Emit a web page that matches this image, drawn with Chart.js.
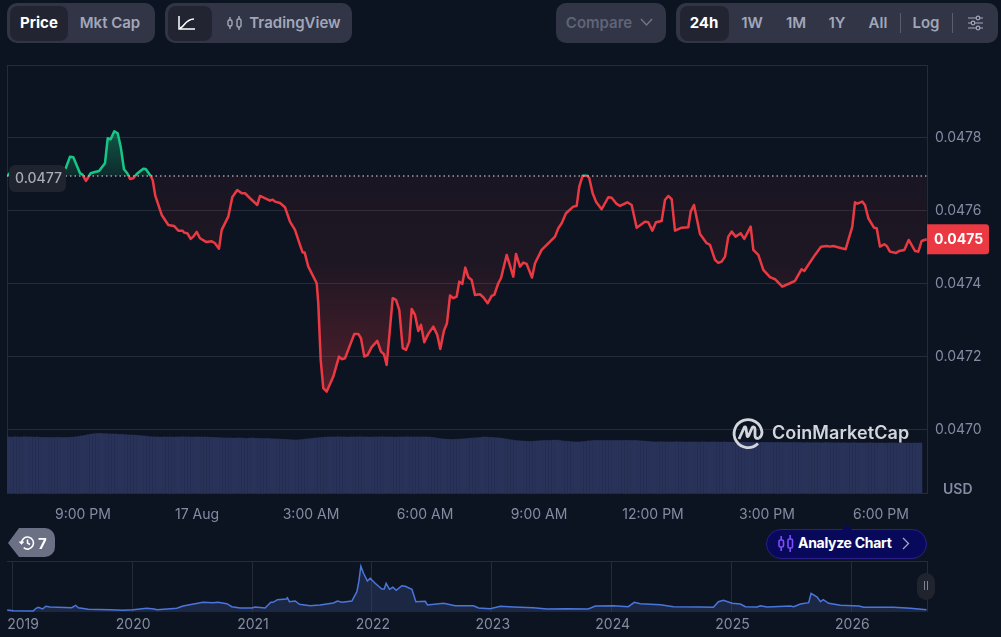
<!DOCTYPE html>
<html>
<head>
<meta charset="utf-8">
<title>Price chart</title>
<script src="https://cdn.jsdelivr.net/npm/chart.js@4/dist/chart.umd.js"></script>
<style>
html, body { margin: 0; padding: 0; background: #0d1421; }
body { position: relative; width: 1001px; height: 637px; overflow: hidden; font-family: Inter, sans-serif; }
canvas { position: absolute; left: 0; }
#mainChart { top: 60px; }
#miniChart { top: 555px; }
.box { position: absolute; top: 3px; height: 40px; background: #323546; border-radius: 10px; }
.active { position: absolute; top: 6px; height: 35px; background: #222531; border-radius: 8px; }
.btn { position: absolute; top: 3px; height: 40px; line-height: 40px; font-size: 15px; font-weight: 600; color: #a1a7bb; transform: translateX(-50%); white-space: nowrap; }
.btn.on { color: #fff; font-weight: 700; }
.sep { position: absolute; top: 13px; width: 1px; height: 20px; background: #585d70; }
svg { position: absolute; overflow: visible; }
#usd { position: absolute; left: 943px; top: 480px; font-size: 14px; font-weight: 600; color: #858ca2; }
#history { position: absolute; left: 38px; top: 534px; font-size: 15px; font-weight: 700; color: #fff; }
#analyze { position: absolute; left: 766px; top: 529px; width: 159px; height: 28px; background: #09095c; border: 1px solid #2a1f8a; border-radius: 15px; }
#analyzeText { position: absolute; left: 798px; top: 534px; font-size: 14px; font-weight: 700; color: #fff; letter-spacing: -0.3px; }
#cmcText { position: absolute; left: 772px; top: 422px; font-size: 18px; font-weight: 600; color: #d3d6dc; letter-spacing: 0.1px; }
</style>
</head>
<body>
<canvas id="mainChart" width="1001" height="470"></canvas>
<canvas id="miniChart" width="1001" height="82"></canvas>

<div class="box" style="left:7px;width:148px"></div>
<div class="active" style="left:10px;width:58px"></div>
<div class="btn on" style="left:39px">Price</div>
<div class="btn" style="left:110px">Mkt Cap</div>

<div class="box" style="left:165px;width:187px"></div>
<div class="active" style="left:168px;width:44px"></div>
<svg style="left:178px;top:15px" width="18" height="16" fill="none" stroke="#fff" stroke-width="1.5"><path d="M1 1v13h16M2 13c4 0 5-9 14-9"/></svg>
<svg style="left:227px;top:15px" width="16" height="16" fill="none" stroke="#a1a7bb" stroke-width="1.4"><rect x="1" y="5" width="4" height="6" rx="1.5"/><rect x="10" y="4" width="4" height="8" rx="1.5"/><path d="M3 2v3M3 11v3M12 1v3M12 12v3"/></svg>
<div class="btn" style="left:295px">TradingView</div>

<div class="box" style="left:556px;width:110px"></div>
<div class="btn" style="left:599px;color:#5f6478">Compare</div>
<svg style="left:640px;top:18px" width="13" height="9" fill="none" stroke="#70758a" stroke-width="1.4"><path d="M1 1l5.5 6L12 1"/></svg>

<div class="box" style="left:676px;width:322px"></div>
<div class="active" style="left:680px;width:49px"></div>
<div class="btn on" style="left:704px">24h</div>
<div class="btn" style="left:752px">1W</div>
<div class="btn" style="left:796px">1M</div>
<div class="btn" style="left:837px">1Y</div>
<div class="btn" style="left:878px">All</div>
<div class="sep" style="left:900px"></div>
<div class="btn" style="left:926px">Log</div>
<div class="sep" style="left:952px"></div>
<svg style="left:968px;top:15px" width="16" height="16" fill="none" stroke="#a1a7bb" stroke-width="1.2"><path d="M0 3h15M0 8h15M0 13h15"/><circle cx="10" cy="3" r="1.8" fill="#323546"/><circle cx="5" cy="8" r="1.8" fill="#323546"/><circle cx="10" cy="13" r="1.8" fill="#323546"/></svg>

<svg style="left:732px;top:417px" width="32" height="32" fill="none" stroke="#d3d6dc" stroke-width="2.8"><path d="M26 26.500A14 14 0 1 1 30 15c0 3-1 5-3 6"/><path d="M7 22l5-11c1-2 2-1 2 1l1 6c0 2 1 2 2 0l3-7c1-2 3-1 3 1l0 7c0 2 2 3 4 2"/></svg>
<div id="cmcText">CoinMarketCap</div>
<div id="usd">USD</div>

<svg style="left:8px;top:528px" width="47" height="29"><path d="M11 0h26a10 10 0 0 1 10 10v9a10 10 0 0 1-10 10H11L0 15z" fill="#6b7085"/><g fill="none" stroke="#fff" stroke-width="1.6"><path d="M13.500 15a6 6 0 1 1 2.200 4.700"/><path d="M19.500 11.500v3.500l2.500 1.500"/><path d="M11.500 13.500l2 2 2-2"/></g></svg>
<div id="history">7</div>

<div id="analyze"></div>
<svg style="left:842px;top:524px" width="10" height="6"><path d="M0 6L5 0l5 6z" fill="#09095c"/></svg>
<svg style="left:778px;top:535px" width="16" height="17" fill="none" stroke="#7c4dff" stroke-width="1.6"><rect x="1" y="5" width="4.500" height="7" rx="1.500"/><rect x="10" y="4" width="4.500" height="9" rx="1.500"/><path d="M3.200 1v4M3.200 12v4M12.200 0v4M12.200 13v4"/></svg>
<div id="analyzeText">Analyze Chart</div>
<svg style="left:902px;top:537px" width="8" height="13" fill="none" stroke="#a1a7bb" stroke-width="1.3"><path d="M1 1l5.500 5.500L1 12"/></svg>

<script>
// minutes after 7:00 PM on 16 Aug
const priceTimes = [
    0, 4.7, 28.4, 52.1, 67.9, 80.5, 92.7, 99.5, 104.7, 115.3, 118.9, 124.7, 132.2, 138.9, 145.3, 154.7,
    159, 163.7, 169.4, 174.8, 179.5, 184.7, 189.9, 194.2, 199.4, 204.8, 215.2, 219, 226.9, 230, 234.2, 244.3,
    254.7, 263.7, 270.5, 277.4, 279.5, 284.7, 290, 294.1, 299.5, 304.7, 314.2, 323.2, 328.4, 334.7, 339, 349.4,
    355.7, 363.6, 370.6, 375.8, 383.7, 395.2, 399.5, 415.3, 419.5, 423.2, 431, 438.9, 446.8, 454.7, 462.6, 466.9,
    470, 475.7, 489, 491.5, 495.3, 499.4, 504.8, 515.2, 524.2, 528.5, 533.7, 548.4, 554.7, 558.9, 564.2, 569.5,
    575.8, 584.7, 590.5, 595.2, 599.5, 609, 614.2, 619.4, 624.8, 630, 635.2, 639, 644.2, 649.4, 653.7, 658.9,
    665.2, 673.1, 679.4, 684.1, 690, 694.7, 699.5, 704.7, 710, 714.1, 718.9, 723.6, 728.4, 733.7, 738.9, 746.8,
    752, 759, 765.3, 769.4, 775.7, 780, 789, 799.4, 803.7, 810, 815.2, 820.5, 829, 833.7, 844.2, 865.3,
    870.5, 875.8, 882.6, 894.1, 899.5, 903.6, 909, 916.2, 919.4, 924.7, 930, 938.9, 949.4, 954.7, 962.6, 967.9,
    979.4, 986.3, 994.2, 1007.3, 1012.5, 1018.9, 1024.7, 1033.7, 1038.9, 1044.1, 1049.5, 1054.7, 1065.3, 1075.7, 1079.5, 1084.7,
    1094.2, 1104.7, 1110, 1117.9, 1123.1, 1128.4, 1133.7, 1138.9, 1144.2, 1150.5, 1158.4, 1164.1, 1174.2, 1178.4, 1186.3, 1194.2,
    1204.7, 1212.6, 1224.1, 1236.3, 1244.2, 1254.7, 1258.9, 1265.2, 1275.8, 1285.3, 1294.2, 1299.5, 1304.7, 1317.9, 1324.2, 1334.7,
    1338.9, 1342.6, 1350.4, 1354.7, 1360, 1368.9, 1373.2, 1378.4, 1385.2, 1389, 1394.2, 1403.7, 1408.9, 1416.8, 1423.7, 1433.7,
    1438.9, 1444.2, 1452.2
];

const prices = [
    0.0476959, 0.0477041, 0.0476986, 0.0477014, 0.0477151, 0.0477123, 0.047717, 0.0477488, 0.0477471, 0.0477033, 0.0477005, 0.0476822, 0.0477033, 0.0477069, 0.0477096, 0.0477307,
    0.0477992, 0.0477964, 0.0478184, 0.0478129, 0.0477762, 0.0477142, 0.0477033, 0.0476877, 0.0476896, 0.0477014, 0.0477159, 0.0477151, 0.0476959, 0.0476849, 0.0476411, 0.047589,
    0.0475616, 0.0475589, 0.047546, 0.047546, 0.0475406, 0.0475389, 0.0475233, 0.0475296, 0.0475425, 0.0475252, 0.0475151, 0.047517, 0.0475115, 0.0474967, 0.047548, 0.0475844,
    0.0476375, 0.0476575, 0.0476485, 0.0476485, 0.0476348, 0.0476164, 0.0476411, 0.0476282, 0.047631, 0.0476255, 0.0476219, 0.0476101, 0.0475707, 0.047548, 0.0475069, 0.0474858,
    0.0474858, 0.0474474, 0.0474019, 0.0473471, 0.0471918, 0.0471142, 0.0471049, 0.047146, 0.0472008, 0.0471937, 0.0471964, 0.047263, 0.047263, 0.0472512, 0.0472008, 0.0472055,
    0.0472266, 0.0472438, 0.0472145, 0.0472074, 0.0471781, 0.0473608, 0.0473562, 0.0473288, 0.0472238, 0.0472192, 0.0472419, 0.0473315, 0.0473151, 0.0472712, 0.0472877, 0.0472403,
    0.047263, 0.047283, 0.0472603, 0.0472219, 0.0472721, 0.0472923, 0.047368, 0.0473608, 0.0473652, 0.0474063, 0.0474, 0.0474447, 0.0474184, 0.047411, 0.0473699, 0.0473718,
    0.0473636, 0.0473471, 0.0473671, 0.0473699, 0.0474019, 0.0474156, 0.0474795, 0.04742, 0.0474822, 0.0474474, 0.0474584, 0.0474548, 0.0474173, 0.0474567, 0.0474932, 0.0475296,
    0.0475526, 0.0475663, 0.0475937, 0.0476118, 0.0476137, 0.0476666, 0.0476967, 0.0476967, 0.0476896, 0.0476485, 0.0476255, 0.0476047, 0.0476375, 0.0476364, 0.0476192, 0.0476137,
    0.0476238, 0.0476164, 0.0475542, 0.0475707, 0.047569, 0.047546, 0.047569, 0.0475726, 0.0476301, 0.0476411, 0.0476321, 0.047546, 0.0475542, 0.0475553, 0.0475981, 0.0476164,
    0.047537, 0.0475115, 0.0475069, 0.0474658, 0.0474575, 0.0474611, 0.0474748, 0.0475296, 0.0475433, 0.0475296, 0.0475389, 0.0475233, 0.047557, 0.0474932, 0.0474795, 0.0474384,
    0.0474184, 0.0474129, 0.0473926, 0.0474019, 0.0474082, 0.0474403, 0.0474356, 0.0474521, 0.0474795, 0.0475022, 0.0475041, 0.0475022, 0.0475041, 0.0474978, 0.0474951, 0.047557,
    0.0476238, 0.04762, 0.0476255, 0.0476164, 0.04758, 0.0475542, 0.0475526, 0.0475022, 0.0475088, 0.0475041, 0.0474885, 0.0474849, 0.0474904, 0.0474932, 0.0475205, 0.0474904,
    0.0474885, 0.0475178, 0.0475225
];

const basePrice = 0.047696;
const lastPriceLabel = '0.0475';
const basePriceLabel = '0.0477';

const priceTicks = [0.0470, 0.0472, 0.0474, 0.0476, 0.0478];
const timeTicks = [120, 300, 480, 660, 840, 1020, 1200, 1380];
const timeLabels = ['9:00 PM', '17 Aug', '3:00 AM', '6:00 AM', '9:00 AM', '12:00 PM', '3:00 PM', '6:00 PM'];

// one 5 minute bar each, relative volume
const volumes = [
    5.60, 5.58, 5.62, 5.60, 5.58, 5.62, 5.60, 5.60, 5.58, 5.60,
    5.56, 5.55, 5.55, 5.54, 5.55, 5.56, 5.55, 5.54, 5.55, 5.55,
    5.58, 5.60, 5.65, 5.70, 5.75, 5.82, 5.88, 5.92, 5.95, 5.96,
    5.93, 5.92, 5.90, 5.90, 5.88, 5.85, 5.85, 5.82, 5.80, 5.80,
    5.78, 5.75, 5.72, 5.70, 5.65, 5.62, 5.60, 5.60, 5.58, 5.60,
    5.60, 5.60, 5.58, 5.60, 5.60, 5.62, 5.60, 5.60, 5.58, 5.60,
    5.60, 5.58, 5.60, 5.58, 5.56, 5.55, 5.54, 5.52, 5.50, 5.50,
    5.50, 5.48, 5.50, 5.50, 5.48, 5.46, 5.48, 5.50, 5.46, 5.45,
    5.45, 5.44, 5.45, 5.42, 5.40, 5.40, 5.38, 5.36, 5.35, 5.32,
    5.30, 5.30, 5.32, 5.35, 5.40, 5.42, 5.45, 5.50, 5.52, 5.55,
    5.58, 5.60, 5.60, 5.60, 5.62, 5.60, 5.60, 5.58, 5.60, 5.60,
    5.60, 5.62, 5.60, 5.60, 5.58, 5.60, 5.60, 5.60, 5.62, 5.60,
    5.60, 5.60, 5.58, 5.60, 5.60, 5.60, 5.62, 5.60, 5.60, 5.60,
    5.60, 5.60, 5.60, 5.58, 5.55, 5.50, 5.45, 5.40, 5.38, 5.36,
    5.35, 5.36, 5.38, 5.40, 5.42, 5.45, 5.48, 5.50, 5.52, 5.55,
    5.60, 5.58, 5.55, 5.55, 5.52, 5.50, 5.45, 5.40, 5.35, 5.30,
    5.25, 5.22, 5.20, 5.18, 5.15, 5.15, 5.18, 5.20, 5.22, 5.25,
    5.25, 5.25, 5.28, 5.28, 5.25, 5.20, 5.18, 5.15, 5.12, 5.10,
    5.10, 5.12, 5.15, 5.20, 5.22, 5.25, 5.25, 5.25, 5.25, 5.25,
    5.25, 5.25, 5.24, 5.25, 5.25, 5.26, 5.25, 5.24, 5.25, 5.22,
    5.20, 5.18, 5.15, 5.12, 5.10, 5.10, 5.12, 5.10, 5.10, 5.10,
    5.10, 5.12, 5.10, 5.10, 5.08, 5.10, 5.10, 5.10, 5.08, 5.10,
    5.10, 5.08, 5.10, 5.10, 5.08, 5.08, 5.10, 5.08, 5.08, 5.08,
    5.08, 5.06, 5.08, 5.06, 5.05, 5.06, 5.05, 5.05, 5.06, 5.05,
    5.05, 5.05, 5.04, 5.05, 5.05, 5.04, 5.05, 5.04, 5.05, 5.04,
    5.04, 5.02, 5.04, 5.02, 5.02, 5.04, 5.02, 5.02, 5.04, 5.02,
    5.02, 5.00, 5.02, 5.00, 5.02, 5.00, 5.00, 5.02, 5.00, 5.00,
    5.00, 5.00, 5.02, 5.00, 4.98, 5.00, 5.00, 4.98, 5.00, 5.00,
    5.00, 4.98, 5.00, 4.98, 5.00, 4.98, 5.00, 4.98, 5.00
];

const miniYears = [
    2018.958, 2019.008, 2019.175, 2019.198, 2019.217, 2019.254, 2019.279, 2019.315, 2019.496, 2019.529, 2019.551, 2019.634, 2019.816, 2019.924,
    2020.008, 2020.122, 2020.183, 2020.208, 2020.372, 2020.425, 2020.525, 2020.592, 2020.675, 2020.717, 2020.79, 2020.831, 2020.901, 2020.998,
    2021.026, 2021.109, 2021.157, 2021.176, 2021.212, 2021.285, 2021.295, 2021.312, 2021.36, 2021.396, 2021.485, 2021.568, 2021.679, 2021.713, 2021.75, 2021.833, 2021.875, 2021.891, 2021.908, 2021.93, 2021.963, 2021.986,
    2022.027, 2022.083, 2022.103, 2022.119, 2022.147, 2022.175, 2022.203, 2022.25, 2022.278, 2022.334, 2022.367, 2022.445, 2022.464, 2022.598, 2022.695, 2022.848, 2022.89, 2022.987,
    2023.071, 2023.182, 2023.346, 2023.461, 2023.628, 2023.805, 2023.864,
    2024.014, 2024.139, 2024.189, 2024.24, 2024.407, 2024.515, 2024.741, 2024.849, 2024.891, 2024.932,
    2025.005, 2025.074, 2025.116, 2025.214, 2025.241, 2025.297, 2025.492, 2025.519, 2025.575, 2025.644, 2025.664, 2025.715, 2025.742, 2025.765, 2025.811, 2025.909,
    2026.062, 2026.103, 2026.354, 2026.493, 2026.627
];

const miniPrices = [
    0.035, 0.023, 0.018, 0.065, 0.083, 0.053, 0.101, 0.088, 0.076, 0.118, 0.076, 0.048, 0.041, 0.03,
    0.041, 0.065, 0.053, 0.041, 0.065, 0.106, 0.146, 0.171, 0.164, 0.171, 0.146, 0.094, 0.071, 0.071,
    0.088, 0.071, 0.171, 0.171, 0.217, 0.229, 0.252, 0.182, 0.194, 0.136, 0.111, 0.124, 0.159, 0.194, 0.171, 0.194, 0.358, 0.535, 0.807, 0.683, 0.547, 0.595,
    0.507, 0.406, 0.406, 0.507, 0.401, 0.436, 0.383, 0.464, 0.454, 0.401, 0.182, 0.189, 0.124, 0.154, 0.111, 0.111, 0.071, 0.058,
    0.101, 0.088, 0.076, 0.053, 0.058, 0.053, 0.106,
    0.111, 0.094, 0.171, 0.146, 0.129, 0.094, 0.088, 0.083, 0.182, 0.207,
    0.154, 0.141, 0.094, 0.088, 0.111, 0.088, 0.106, 0.094, 0.141, 0.164, 0.33, 0.265, 0.182, 0.217, 0.154, 0.118,
    0.106, 0.083, 0.083, 0.065, 0.041
];

const miniYearTicks = [2019, 2020, 2021, 2022, 2023, 2024, 2025, 2026];

const GRID = '#262b38';
const TICK = '#858ca2';
const RED = '#ea3943';
const GREEN = '#16c784';

const basePixelStop = (chart) => {
    const {top, bottom} = chart.chartArea;
    return (chart.scales.y.getPixelForValue(basePrice) - top) / (bottom - top);
};

const lineColor = (ctx) => {
    const chart = ctx.chart;
    if (!chart.chartArea) return RED;
    const {top, bottom} = chart.chartArea;
    const stop = basePixelStop(chart);
    const g = chart.ctx.createLinearGradient(0, top, 0, bottom);
    g.addColorStop(0, GREEN);
    g.addColorStop(stop, GREEN);
    g.addColorStop(stop, RED);
    g.addColorStop(1, RED);
    return g;
};

const fillColor = (ctx) => {
    const chart = ctx.chart;
    if (!chart.chartArea) return 'transparent';
    const {top, bottom} = chart.chartArea;
    const stop = basePixelStop(chart);
    const g = chart.ctx.createLinearGradient(0, top, 0, bottom);
    g.addColorStop(0, 'rgba(22,199,132,0.75)');
    g.addColorStop(stop, 'rgba(22,199,132,0.12)');
    g.addColorStop(stop, 'rgba(234,57,67,0.06)');
    g.addColorStop(stop + 0.2, 'rgba(234,57,67,0.08)');
    g.addColorStop(stop + 0.5, 'rgba(234,57,67,0.3)');
    g.addColorStop(1, 'rgba(234,57,67,0.3)');
    return g;
};

const roundBox = (c, x, y, w, h, r, color) => {
    c.fillStyle = color;
    c.beginPath();
    c.roundRect(x, y, w, h, r);
    c.fill();
};

const framePlugin = {
    id: 'frame',
    beforeDraw: (chart) => {
        const {left, top, right, bottom} = chart.chartArea;
        const c = chart.ctx;
        c.save();
        c.strokeStyle = GRID;
        c.lineWidth = 1;
        c.strokeRect(left + 0.5, top + 0.5, right - left, bottom - top);
        c.restore();
    }
};

const priceLabels = {
    id: 'priceLabels',
    afterDraw: (chart) => {
        const c = chart.ctx;
        const y = chart.scales.y;
        const {left, right} = chart.chartArea;
        const lastY = y.getPixelForValue(prices[prices.length - 1]);
        const baseY = y.getPixelForValue(basePrice);
        c.save();
        c.textBaseline = 'middle';
        c.textAlign = 'left';
        roundBox(c, right, lastY - 15, 62, 30, [0, 3, 3, 0], RED);
        c.fillStyle = '#fff';
        c.font = '700 14px Inter';
        c.fillText(lastPriceLabel, right + 7, lastY + 0.5);
        roundBox(c, left + 2, baseY - 11, 57, 27, 6, '#20242f');
        c.fillStyle = '#a8acb8';
        c.font = '500 14px Inter';
        c.fillText(basePriceLabel, left + 8, baseY + 3);
        c.restore();
    }
};

const mainChart = new Chart(document.getElementById('mainChart').getContext('2d'), {
    type: 'bar',
    data: {
        datasets: [
            {
                type: 'line',
                data: [{x: 0, y: basePrice}, {x: 1452.6, y: basePrice}],
                borderColor: 'rgba(200,205,215,0.75)',
                borderWidth: 1.5,
                borderDash: [1.5, 3],
                pointRadius: 0,
                order: 1
            },
            {
                type: 'line',
                data: priceTimes.map((t, i) => ({x: t, y: prices[i]})),
                borderColor: lineColor,
                backgroundColor: fillColor,
                borderWidth: 2.5,
                borderJoinStyle: 'round',
                pointRadius: 0,
                tension: 0,
                fill: {target: {value: basePrice}},
                order: 2
            },
            {
                type: 'bar',
                data: volumes.map((v, i) => ({x: i * 5 + 2.5, y: v})),
                yAxisID: 'yVolume',
                backgroundColor: '#29335a',
                barThickness: 2.7,
                order: 3
            }
        ]
    },
    options: {
        responsive: false,
        animation: false,
        layout: {padding: {left: 7, top: 5}},
        plugins: {legend: {display: false}, tooltip: {enabled: false}},
        scales: {
            x: {
                type: 'linear',
                offset: false,
                min: 0,
                max: 1452.63,
                grid: {display: false},
                border: {display: false},
                afterBuildTicks: (scale) => { scale.ticks = timeTicks.map(v => ({value: v})); },
                afterFit: (scale) => { scale.height = 37; scale.paddingLeft = 0; scale.paddingRight = 0; },
                ticks: {
                    autoSkip: false,
                    maxRotation: 0,
                    color: TICK,
                    padding: 5,
                    font: {family: 'Inter', size: 14},
                    callback: (v) => timeLabels[timeTicks.indexOf(v)]
                }
            },
            y: {
                position: 'right',
                min: 0.046827,
                max: 0.0480,
                grid: {color: GRID, drawTicks: false},
                border: {display: false},
                afterBuildTicks: (scale) => { scale.ticks = priceTicks.map(v => ({value: v})); },
                afterFit: (scale) => { scale.width = 74; scale.paddingTop = 0; scale.paddingBottom = 0; },
                ticks: {
                    color: TICK,
                    padding: 8,
                    font: {family: 'Inter', size: 14},
                    callback: (v) => v.toFixed(4)
                }
            },
            yVolume: {
                display: false,
                min: 0,
                max: 42.8
            }
        }
    },
    plugins: [framePlugin, priceLabels]
});

const miniFrame = {
    id: 'miniFrame',
    beforeDraw: (chart) => {
        const {top, bottom, right, left} = chart.chartArea;
        const c = chart.ctx;
        c.save();
        c.strokeStyle = GRID;
        c.beginPath();
        c.moveTo(left, top + 0.5);
        c.lineTo(right, top + 0.5);
        c.moveTo(right + 0.5, top);
        c.lineTo(right + 0.5, bottom);
        c.stroke();
        c.restore();
    },
    afterDraw: (chart) => {
        const {right} = chart.chartArea;
        const c = chart.ctx;
        c.save();
        // year labels, first one held inside the page
        c.fillStyle = TICK;
        c.font = '14px Inter';
        c.textAlign = 'center';
        c.textBaseline = 'middle';
        miniYearTicks.forEach(year => {
            const x = Math.max(chart.scales.x.getPixelForValue(year) + 1, 23);
            c.fillText(year, x, 70);
        });
        // drag handle
        roundBox(c, right - 10, 18, 18, 27, 9, '#20242f');
        c.fillStyle = '#7d8297';
        c.fillRect(right - 3, 26, 1, 9);
        c.fillRect(right, 26, 1, 9);
        c.restore();
    }
};

const miniChart = new Chart(document.getElementById('miniChart').getContext('2d'), {
    type: 'line',
    data: {
        datasets: [{
            data: miniYears.map((t, i) => ({x: t, y: miniPrices[i]})),
            borderColor: '#4a76dc',
            backgroundColor: 'rgba(56,75,135,0.35)',
            borderWidth: 1.5,
            pointRadius: 0,
            fill: 'origin'
        }]
    },
    options: {
        responsive: false,
        animation: false,
        layout: {padding: {left: 7, top: 6, right: 74, bottom: 25}},
        plugins: {legend: {display: false}, tooltip: {enabled: false}},
        scales: {
            x: {
                type: 'linear',
                min: 2018.956,
                max: 2026.631,
                display: true,
                border: {display: false},
                grid: {color: GRID, drawTicks: false},
                afterBuildTicks: (scale) => { scale.ticks = miniYearTicks.map(v => ({value: v})); },
                afterFit: (scale) => { scale.height = 0; },
                ticks: {display: false}
            },
            y: {
                display: false,
                min: 0,
                max: 0.9
            }
        }
    },
    plugins: [miniFrame]
});
</script>
</body>
</html>
